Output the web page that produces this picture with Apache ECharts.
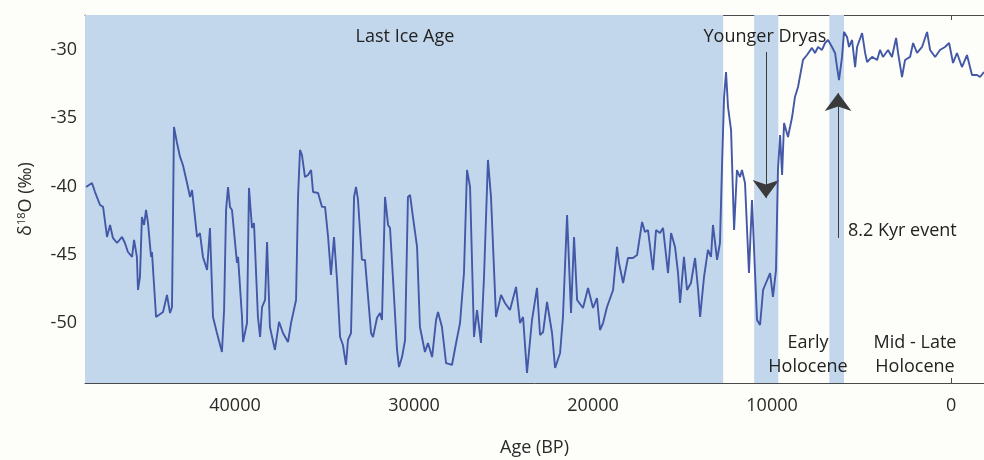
<!DOCTYPE html>
<html><head><meta charset="utf-8">
<script src="https://cdn.jsdelivr.net/npm/echarts@6/dist/echarts.min.js"></script>
<style>html,body{margin:0;padding:0;background:#fdfdf9}#c{width:984px;height:460px}</style>
</head><body><div id="c"></div>
<script>
// Age (years BP) and delta-18O (per mil)
const ages = [48320,47990,47820,47540,47370,47150,46980,46820,46590,46310,46150,45980,45750,45640,45480,45420,45310,45200,45080,44970,44860,44690,44640,44410,44300,44020,43800,43630,43520,43410,43240,43070,42910,42680,42510,42400,42120,41960,41790,41560,41400,41230,41010,40950,40730,40610,40500,40390,40280,40170,39890,39830,39610,39550,39330,39220,39050,38940,38720,38600,38490,38320,38210,38050,37770,37540,37320,37040,36870,36590,36480,36370,36260,36090,35920,35750,35640,35360,35140,34970,34800,34640,34470,34300,34130,33970,33800,33690,33520,33350,33240,33130,32910,32740,32400,32290,32070,31900,31790,31620,31450,31340,31170,30950,30840,30670,30500,30340,30220,30060,29830,29670,29390,29220,28990,28770,28660,28440,28210,27880,27650,27430,27210,27040,26870,26650,26480,26260,26090,25870,25700,25420,25140,24920,24640,24300,24080,23910,23690,23410,23130,22960,22790,22570,22290,22120,21840,21680,21450,21230,21060,20890,20560,20280,20000,19780,19610,19440,19220,18880,18660,18550,18320,18050,17770,17540,17260,17100,16930,16650,16480,16260,16090,15810,15640,15420,15250,15140,14920,14750,14530,14300,14130,14020,13800,13580,13410,13300,13070,12910,12790,12680,12570,12460,12290,12120,11960,11790,11680,11510,11290,11120,10840,10670,10500,10340,10110,9950,9780,9670,9550,9440,9330,9110,8880,8720,8550,8270,8050,7770,7600,7430,7210,7040,6870,6650,6480,6370,6260,6090,5980,5810,5700,5530,5360,5250,4970,4800,4690,4410,4130,3970,3800,3520,3300,3070,2960,2740,2570,2290,2120,1900,1620,1340,1170,890,620,340,110,-110,-330,-610,-890,-1170,-1450,-1620,-1840];
const d18O = [-40.03,-39.74,-40.40,-41.35,-41.49,-43.69,-42.81,-43.76,-44.13,-43.69,-44.13,-44.79,-45.15,-43.91,-45.15,-47.57,-46.62,-42.23,-42.81,-41.71,-42.67,-45.15,-44.79,-49.55,-49.62,-49.18,-47.94,-49.26,-48.82,-35.64,-36.81,-37.83,-38.42,-39.74,-40.76,-40.25,-43.69,-43.40,-45.15,-46.11,-43.03,-49.55,-50.72,-51.01,-52.11,-49.04,-41.71,-40.03,-41.49,-41.71,-45.59,-45.15,-49.55,-51.38,-49.99,-40.10,-43.03,-42.67,-49.55,-51.01,-48.82,-48.30,-44.06,-50.28,-51.96,-49.91,-50.72,-51.38,-49.99,-48.30,-40.76,-37.32,-37.69,-39.30,-39.15,-38.79,-40.40,-40.47,-41.49,-41.49,-43.69,-46.47,-43.69,-46.84,-51.01,-51.60,-53.06,-51.23,-50.72,-40.76,-40.03,-40.98,-45.37,-45.37,-50.72,-51.01,-49.62,-49.26,-49.77,-40.76,-42.81,-43.03,-46.84,-51.96,-53.21,-52.48,-51.23,-40.76,-40.62,-42.23,-44.42,-50.28,-52.11,-51.45,-52.48,-49.77,-49.18,-50.28,-52.92,-53.06,-51.45,-49.99,-46.33,-38.79,-40.03,-51.01,-49.04,-51.45,-46.62,-38.05,-40.76,-49.55,-47.94,-48.52,-49.04,-47.35,-49.99,-49.55,-53.65,-49.77,-47.42,-50.87,-50.65,-48.45,-50.72,-53.28,-52.18,-49.55,-42.08,-49.26,-43.69,-48.30,-48.89,-47.42,-48.89,-48.16,-50.50,-49.99,-48.82,-47.57,-44.42,-45.59,-47.06,-45.23,-45.23,-45.01,-42.59,-43.33,-43.18,-46.11,-43.18,-43.40,-43.03,-46.33,-43.40,-44.42,-46.33,-48.52,-45.15,-47.57,-47.06,-45.23,-47.57,-49.55,-46.62,-44.64,-45.15,-42.81,-45.37,-44.13,-38.27,-33.44,-31.61,-34.17,-35.86,-43.18,-38.79,-39.30,-38.79,-39.74,-46.33,-40.98,-49.77,-50.13,-47.57,-47.06,-46.33,-48.08,-46.11,-38.79,-36.22,-39.15,-35.35,-36.37,-34.91,-33.44,-32.71,-30.73,-30.37,-29.85,-30.22,-29.78,-30.00,-29.49,-29.27,-29.78,-30.22,-31.25,-32.20,-30.51,-28.68,-29.05,-29.78,-29.27,-31.25,-29.78,-28.76,-30.22,-30.88,-30.51,-30.73,-30.00,-30.51,-30.00,-30.51,-29.12,-30.22,-31.98,-30.73,-30.51,-29.49,-30.22,-29.78,-28.68,-30.00,-30.51,-30.00,-29.78,-29.49,-30.95,-30.22,-31.25,-30.37,-31.83,-31.83,-31.98,-31.61];

const xTicks = [0, 10000, 20000, 30000, 40000];
const yTicks = [-50, -45, -40, -35, -30];
const xRange = [-1840, 48380];
const yRange = [-54.38, -27.44];

// shaded periods (age BP)
const bandStart = [48380, 11000, 6800];
const bandEnd   = [12730, 9650, 5980];

// annotation arrows: age, start value, tip value
const arrowAge  = [10340, 6310];
const arrowFrom = [-30.15, -43.76];
const arrowTo   = [-40.84, -33.15];

const labels = ['Last Ice Age', 'Younger Dryas', '8.2 Kyr event', 'Early\nHolocene', 'Mid - Late\nHolocene'];

const FONT = 'Open Sans';
const chart = echarts.init(document.getElementById('c'), null, {renderer: 'canvas'});

const axisLineStyle = {color: '#4a4a4a', width: 1};
chart.setOption({
  backgroundColor: '#fdfdf9',
  animation: false,
  grid: {left: 85, right: 0, top: 15, bottom: 77, containLabel: false, outerBoundsMode: 'none'},
  xAxis: [{
    type: 'value', inverse: true, min: xRange[0], max: xRange[1],
    position: 'bottom',
    axisLine: {show: true, onZero: false, lineStyle: axisLineStyle},
    axisTick: {show: true, inside: true, length: 5, lineStyle: {color: '#4a4a4a'}, customValues: xTicks},
    axisLabel: {show: true, customValues: xTicks, margin: 14, fontFamily: FONT, fontSize: 18, color: '#2a2a2a',
      formatter: v => String(v)},
    splitLine: {show: false},
    name: 'Age (BP)', nameLocation: 'middle', nameGap: 56,
    nameTextStyle: {fontFamily: FONT, fontSize: 18, color: '#2a2a2a'}
  }, {
    type: 'value', inverse: true, min: xRange[0], max: xRange[1],
    position: 'top',
    axisLine: {show: true, onZero: false, lineStyle: axisLineStyle},
    axisTick: {show: true, inside: true, length: 5, lineStyle: {color: '#4a4a4a'}, customValues: xTicks},
    axisLabel: {show: false},
    splitLine: {show: false}
  }],
  yAxis: {
    type: 'value', min: yRange[0], max: yRange[1],
    axisLine: {show: true, onZero: false, lineStyle: axisLineStyle},
    axisTick: {show: true, inside: true, length: 5, lineStyle: {color: '#4a4a4a'}, customValues: yTicks},
    axisLabel: {show: true, customValues: yTicks, margin: 8, fontFamily: FONT, fontSize: 18, color: '#2a2a2a'},
    splitLine: {show: false},
    name: '{a|δ}{s|18}{a|O (‰)}', nameLocation: 'middle', nameGap: 50, nameRotate: 90,
    nameTextStyle: {
      rich: {
        a: {fontFamily: FONT, fontSize: 18, color: '#2a2a2a'},
        s: {fontFamily: FONT, fontSize: 11, color: '#2a2a2a', padding: [0, 0, 8, 0]}
      }
    }
  },
  series: [{
    type: 'line',
    data: ages.map((a, i) => [a, d18O[i]]),
    showSymbol: false,
    symbol: 'none',
    lineStyle: {color: '#4358a6', width: 1.9},
    clip: true,
    z: 5,
    markArea: {
      silent: true,
      itemStyle: {color: '#c3d7ec', opacity: 1},
      data: bandStart.map((s, i) => [{xAxis: s}, {xAxis: bandEnd[i]}])
    },
    markLine: {
      silent: true,
      symbol: ['none', 'arrow'],
      symbolSize: [20, 18],
      label: {show: false},
      lineStyle: {color: '#3a3a3a', width: 1, type: 'solid'},
      itemStyle: {color: '#111'},
      data: arrowAge.map((a, i) => [{coord: [a, arrowFrom[i]]}, {coord: [a, arrowTo[i]]}])
    }
  }],
  graphic: [
    {type: 'text', x: 405, y: 37, style: {text: labels[0], font: '18px "Open Sans"', fill: '#222', align: 'center', verticalAlign: 'middle'}, z: 20},
    {type: 'text', x: 765, y: 37, style: {text: labels[1], font: '18px "Open Sans"', fill: '#222', align: 'center', verticalAlign: 'middle'}, z: 20},
    {type: 'text', x: 848, y: 231, style: {text: labels[2], font: '18px "Open Sans"', fill: '#222', align: 'left', verticalAlign: 'middle'}, z: 20},
    {type: 'text', x: 808, y: 355, style: {text: labels[3], font: '18px "Open Sans"', fill: '#222', align: 'center', verticalAlign: 'middle', lineHeight: 24}, z: 20},
    {type: 'text', x: 915, y: 355, style: {text: labels[4], font: '18px "Open Sans"', fill: '#222', align: 'center', verticalAlign: 'middle', lineHeight: 24}, z: 20}
  ]
});
</script></body></html>
